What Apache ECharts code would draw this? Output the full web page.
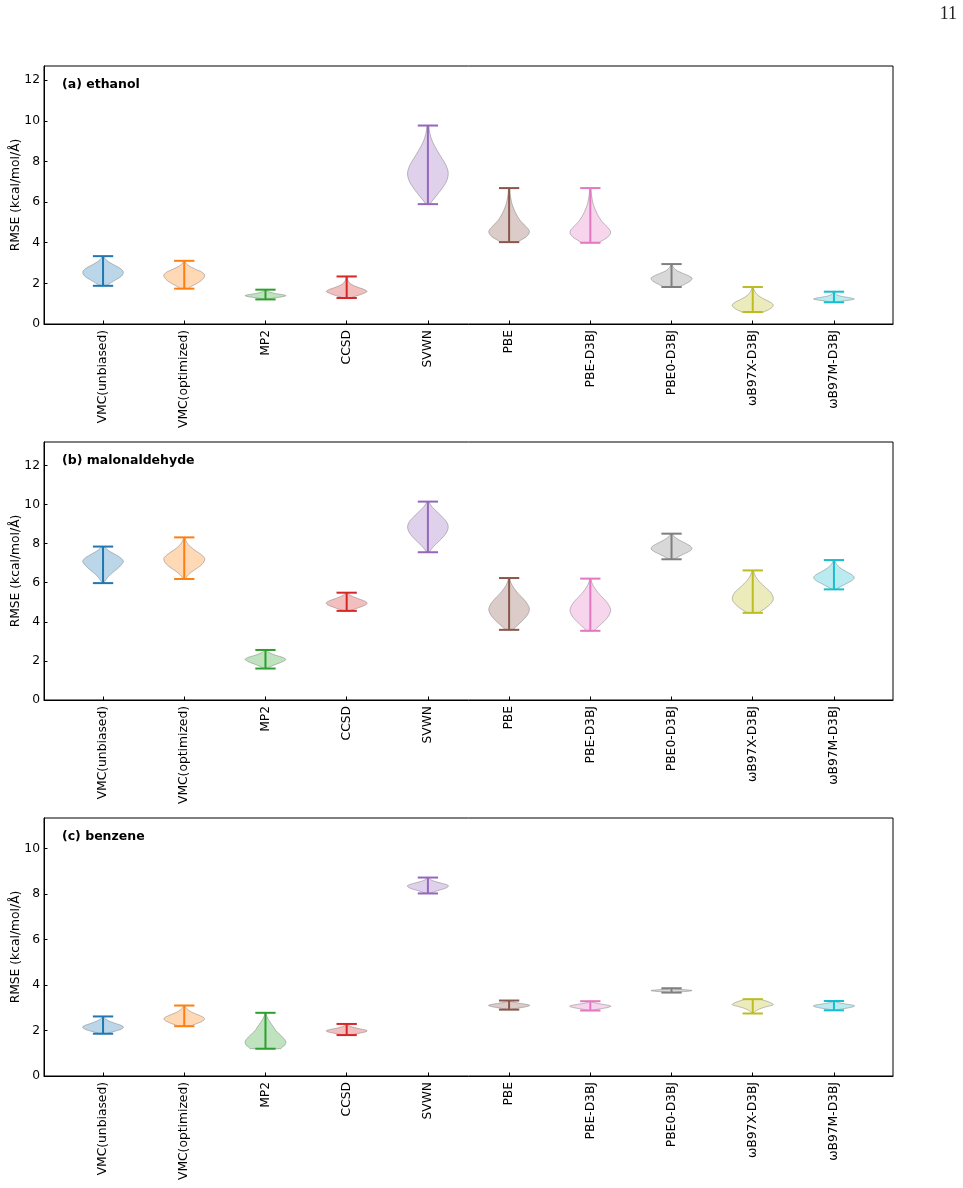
<!DOCTYPE html>
<html>
<head>
<meta charset="utf-8">
<script src="https://cdn.jsdelivr.net/npm/echarts@6/dist/echarts.min.js"></script>
<style>
  html, body { margin: 0; padding: 0; background: #fff; }
  #main { width: 963px; height: 1188px; }
</style>
</head>
<body>
<div id="main"></div>
<script>
const methods = ['VMC(unbiased)', 'VMC(optimized)', 'MP2', 'CCSD', 'SVWN', 'PBE',
  'PBE-D3BJ', 'PBE0-D3BJ', 'ωB97X-D3BJ', 'ωB97M-D3BJ'];
const colors = ['#1f77b4', '#ff7f0e', '#2ca02c', '#d62728', '#9467bd', '#8c564b',
  '#e377c2', '#7f7f7f', '#bcbd22', '#17becf'];

// (a) ethanol: extremes and violin outline (relative width, min -> max)
const ethanolMin = [1.88, 1.74, 1.21, 1.28, 5.90, 4.03, 4.00, 1.82, 0.59, 1.07];
const ethanolMax = [3.34, 3.11, 1.69, 2.34, 9.77, 6.69, 6.69, 2.95, 1.82, 1.59];
const ethanolShape = [
  [0.18, 0.38, 0.62, 0.86, 0.98, 0.98, 0.82, 0.55, 0.3, 0.12, 0.05],
  [0.2, 0.4, 0.65, 0.85, 0.97, 1.0, 0.85, 0.55, 0.28, 0.1, 0.04],
  [0.1, 0.3, 0.6, 0.9, 1.0, 0.8, 0.5, 0.3, 0.15, 0.06, 0.03],
  [0.2, 0.5, 0.8, 1.0, 0.85, 0.55, 0.3, 0.15, 0.08, 0.04, 0.02],
  [0.12, 0.4, 0.7, 0.93, 1.0, 0.88, 0.65, 0.42, 0.22, 0.1, 0.05],
  [0.45, 0.85, 1.0, 0.8, 0.55, 0.38, 0.25, 0.15, 0.09, 0.05, 0.03],
  [0.45, 0.85, 1.0, 0.8, 0.55, 0.38, 0.25, 0.15, 0.09, 0.05, 0.03],
  [0.4, 0.6, 0.82, 0.97, 1.0, 0.82, 0.55, 0.3, 0.15, 0.07, 0.03],
  [0.55, 0.8, 0.97, 1.0, 0.85, 0.6, 0.38, 0.22, 0.12, 0.06, 0.03],
  [0.15, 0.4, 0.75, 1.0, 0.85, 0.55, 0.3, 0.15, 0.08, 0.04, 0.02]
];

// (b) malonaldehyde
const malonMin = [5.98, 6.19, 1.61, 4.56, 7.56, 3.59, 3.54, 7.20, 4.46, 5.66];
const malonMax = [7.85, 8.32, 2.56, 5.49, 10.15, 6.24, 6.21, 8.51, 6.63, 7.16];
const malonShape = [
  [0.05, 0.15, 0.3, 0.5, 0.72, 0.9, 1.0, 0.85, 0.55, 0.25, 0.08],
  [0.06, 0.2, 0.45, 0.75, 0.95, 1.0, 0.8, 0.5, 0.25, 0.1, 0.03],
  [0.1, 0.25, 0.45, 0.7, 0.9, 1.0, 0.85, 0.55, 0.3, 0.12, 0.05],
  [0.15, 0.4, 0.65, 0.88, 1.0, 0.95, 0.75, 0.5, 0.28, 0.12, 0.05],
  [0.08, 0.25, 0.5, 0.75, 0.93, 1.0, 0.92, 0.7, 0.45, 0.2, 0.06],
  [0.2, 0.45, 0.72, 0.92, 1.0, 0.9, 0.7, 0.45, 0.25, 0.1, 0.03],
  [0.2, 0.45, 0.72, 0.92, 1.0, 0.9, 0.7, 0.45, 0.25, 0.1, 0.03],
  [0.15, 0.35, 0.6, 0.85, 1.0, 0.95, 0.75, 0.5, 0.28, 0.12, 0.05],
  [0.3, 0.6, 0.85, 1.0, 0.98, 0.85, 0.62, 0.4, 0.22, 0.1, 0.04],
  [0.12, 0.35, 0.62, 0.88, 1.0, 0.88, 0.62, 0.38, 0.2, 0.09, 0.04]
];

// (c) benzene
const benzeneMin = [1.86, 2.19, 1.20, 1.80, 8.03, 2.92, 2.88, 3.67, 2.75, 2.89];
const benzeneMax = [2.62, 3.10, 2.78, 2.29, 8.73, 3.32, 3.29, 3.86, 3.38, 3.30];
const benzeneShape = [
  [0.2, 0.45, 0.75, 0.95, 1.0, 0.85, 0.6, 0.38, 0.2, 0.08, 0.03],
  [0.3, 0.55, 0.8, 0.97, 0.98, 0.8, 0.55, 0.33, 0.18, 0.08, 0.03],
  [0.75, 0.95, 1.0, 0.88, 0.7, 0.52, 0.4, 0.28, 0.16, 0.07, 0.02],
  [0.2, 0.45, 0.72, 0.95, 1.0, 0.82, 0.55, 0.32, 0.16, 0.07, 0.03],
  [0.1, 0.3, 0.55, 0.8, 0.97, 1.0, 0.8, 0.5, 0.25, 0.1, 0.04],
  [0.1, 0.28, 0.55, 0.8, 0.97, 1.0, 0.8, 0.52, 0.27, 0.1, 0.04],
  [0.1, 0.28, 0.55, 0.8, 0.97, 1.0, 0.8, 0.52, 0.27, 0.1, 0.04],
  [0.1, 0.3, 0.55, 0.8, 0.97, 1.0, 0.8, 0.52, 0.27, 0.1, 0.04],
  [0.03, 0.08, 0.18, 0.32, 0.5, 0.75, 1.0, 0.95, 0.8, 0.6, 0.4],
  [0.1, 0.28, 0.55, 0.8, 0.97, 1.0, 0.8, 0.52, 0.27, 0.1, 0.04]
];

const panelTitles = ['(a) ethanol', '(b) malonaldehyde', '(c) benzene'];
const yMaxes = [12.7, 13.2, 11.35];
const yTicksA = [0, 2, 4, 6, 8, 10, 12];
const yTicksB = [0, 2, 4, 6, 8, 10, 12];
const yTicksC = [0, 2, 4, 6, 8, 10];
const xTicks = [1, 2, 3, 4, 5, 6, 7, 8, 9, 10];

const panels = [
  { min: ethanolMin, max: ethanolMax, shape: ethanolShape, ticks: yTicksA, top: 66 },
  { min: malonMin, max: malonMax, shape: malonShape, ticks: yTicksB, top: 442 },
  { min: benzeneMin, max: benzeneMax, shape: benzeneShape, ticks: yTicksC, top: 818 }
];

const FONT = 'DejaVu Sans';
const FS = 12.3;
const halfWidth = 0.25;   // violin width 0.5
const capHalf = 0.125;

function fade(hex, a) {
  const n = parseInt(hex.slice(1), 16);
  return 'rgba(' + (n >> 16) + ',' + ((n >> 8) & 255) + ',' + (n & 255) + ',' + a + ')';
}

// catmull-rom through the outline samples so the body looks like a kde curve
function smoothProfile(lo, hi, prof) {
  const n = prof.length - 1, out = [];
  for (let k = 0; k < n; k++) {
    const p0 = prof[Math.max(k - 1, 0)], p1 = prof[k], p2 = prof[k + 1], p3 = prof[Math.min(k + 2, n)];
    for (let s = 0; s < 6; s++) {
      const t = s / 6;
      const w = 0.5 * (2 * p1 + (-p0 + p2) * t + (2 * p0 - 5 * p1 + 4 * p2 - p3) * t * t +
        (-p0 + 3 * p1 - 3 * p2 + p3) * t * t * t);
      out.push([lo + (hi - lo) * (k + t) / n, Math.max(w, 0)]);
    }
  }
  out.push([hi, prof[n]]);
  return out;
}

function violinRender(shapes) {
  return function (params, api) {
    const pos = api.value(0), lo = api.value(1), hi = api.value(2);
    const i = params.dataIndex;
    const color = colors[i];
    const pts = smoothProfile(lo, hi, shapes[i]);
    const right = pts.map(p => api.coord([pos + halfWidth * p[1], p[0]]));
    const left = pts.slice().reverse().map(p => api.coord([pos - halfWidth * p[1], p[0]]));
    const b = api.coord([pos, lo]), t = api.coord([pos, hi]);
    const bl = api.coord([pos - capHalf, lo]), br = api.coord([pos + capHalf, lo]);
    const tl = api.coord([pos - capHalf, hi]), tr = api.coord([pos + capHalf, hi]);
    const lineStyle = { stroke: color, lineWidth: 2 };
    return {
      type: 'group',
      children: [
        { type: 'polygon', shape: { points: right.concat(left) },
          style: { fill: fade(color, 0.3), stroke: 'rgba(110,110,110,0.45)', lineWidth: 1 } },
        { type: 'line', shape: { x1: b[0], y1: b[1], x2: t[0], y2: t[1] }, style: lineStyle },
        { type: 'line', shape: { x1: bl[0], y1: bl[1], x2: br[0], y2: br[1] }, style: lineStyle },
        { type: 'line', shape: { x1: tl[0], y1: tl[1], x2: tr[0], y2: tr[1] }, style: lineStyle }
      ]
    };
  };
}

const chart = echarts.init(document.getElementById('main'), null, { renderer: 'canvas' });

const option = {
  backgroundColor: '#fff',
  animation: false,
  textStyle: { fontFamily: FONT },
  title: panels.map((p, i) => ({
    text: panelTitles[i],
    left: 57,
    top: p.top + 7,
    textStyle: { fontFamily: FONT, fontSize: 12.5, fontWeight: 'bold', color: '#000' }
  })),
  graphic: [{
    type: 'text', right: 6, top: 5,
    style: { text: '11', fontFamily: 'Liberation Serif', fontSize: 18, fill: '#222' }
  }],
  grid: panels.map(p => ({
    left: 44, top: p.top, width: 849, height: 258,
    containLabel: false, outerBoundsMode: 'none',
    show: true, borderColor: '#000', borderWidth: 1, backgroundColor: 'transparent'
  })),
  xAxis: panels.map((p, i) => ({
    type: 'value', gridIndex: i, min: 0.273, max: 10.727,
    splitLine: { show: false },
    axisLine: { show: true, onZero: false, lineStyle: { color: '#000', width: 1 } },
    axisTick: { show: true, inside: true, length: 3.5, customValues: xTicks, lineStyle: { color: '#000' } },
    axisLabel: {
      customValues: xTicks, rotate: 90, margin: 6, color: '#000',
      fontFamily: FONT, fontSize: FS,
      formatter: v => methods[Math.round(v) - 1]
    }
  })),
  yAxis: panels.map((p, i) => ({
    type: 'value', gridIndex: i, min: 0, max: yMaxes[i],
    name: 'RMSE (kcal/mol/Å)', nameLocation: 'middle', nameGap: 22, nameMoveOverlap: false,
    nameTextStyle: { fontFamily: FONT, fontSize: FS, color: '#000' },
    splitLine: { show: false },
    axisLine: { show: true, onZero: false, lineStyle: { color: '#000', width: 1 } },
    axisTick: { show: true, inside: true, length: 3.5, customValues: p.ticks, lineStyle: { color: '#000' } },
    axisLabel: { customValues: p.ticks, margin: 4, color: '#000', fontFamily: FONT, fontSize: FS }
  })),
  series: panels.map((p, i) => ({
    type: 'custom',
    xAxisIndex: i,
    yAxisIndex: i,
    renderItem: violinRender(p.shape),
    encode: { x: 0, y: [1, 2] },
    data: methods.map((m, k) => [k + 1, p.min[k], p.max[k]]),
    silent: true
  }))
};

chart.setOption(option);
</script>
</body>
</html>
